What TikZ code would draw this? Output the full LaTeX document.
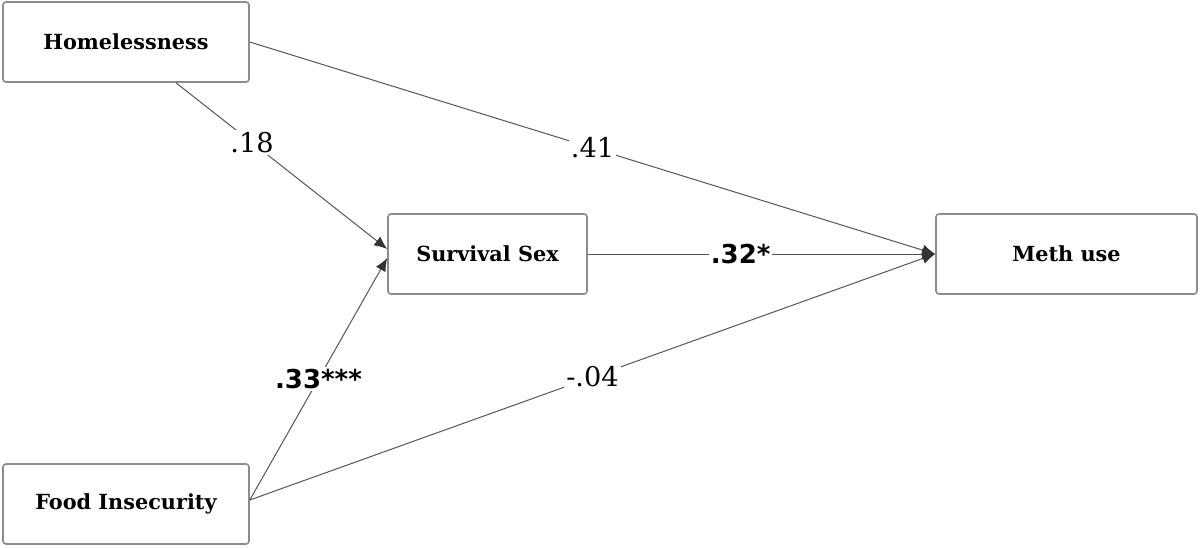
\documentclass[tikz,border=0pt]{standalone}
\usepackage{fontspec}
\setmainfont{DejaVu Serif}
\setsansfont{DejaVu Sans}
\usetikzlibrary{arrows.meta,calc}
\definecolor{boxgray}{RGB}{140,140,140}
\definecolor{linegray}{RGB}{85,85,85}
\definecolor{tipgray}{RGB}{50,50,50}
\tikzset{
  var/.style={draw=boxgray,thick,fill=white,rounded corners=1.5pt,
    align=center,inner sep=0pt,minimum height=40pt,
    font=\fontsize{10.4}{12}\selectfont\bfseries},
  path/.style={-{Latex[length=6.5pt,width=5.5pt,color=tipgray]},
    line width=0.5pt,draw=linegray},
  coef/.style={font=\fontsize{13.6}{15}\selectfont,fill=white,inner sep=1pt},
  sig/.style={font=\fontsize{13}{15}\selectfont\sffamily\bfseries,
    fill=white,inner sep=1pt}
}
\begin{document}
\begin{tikzpicture}[x=0.5pt,y=-0.5pt]
  \useasboundingbox (0,0) rectangle (1200,547);
  \node[var,minimum width=123pt] (home) at (126,42) {Homelessness};
  \node[var,minimum width=123pt] (food) at (126,504) {Food Insecurity};
  \node[var,minimum width=99.5pt] (surv) at (487.5,254) {Survival Sex};
  \node[var,minimum width=130.5pt] (meth) at (1066.5,254) {Meth use};
  \draw[path] (home.east) -- node[coef,pos=0.5] {.41} (meth.west);
  \draw[path] ([xshift=25pt]home.south) -- node[coef,pos=0.36] {.18} ([yshift=2.5pt]surv.west);
  \draw[path] ([yshift=2pt]food.east) -- node[sig,pos=0.5] {.33***} ([yshift=-2pt]surv.west);
  \draw[path] ([yshift=2pt]food.east) -- node[coef,pos=0.5] {-.04} (meth.west);
  \draw[path] (surv.east) -- node[sig,pos=0.44] {.32*} (meth.west);
\end{tikzpicture}
\end{document}
